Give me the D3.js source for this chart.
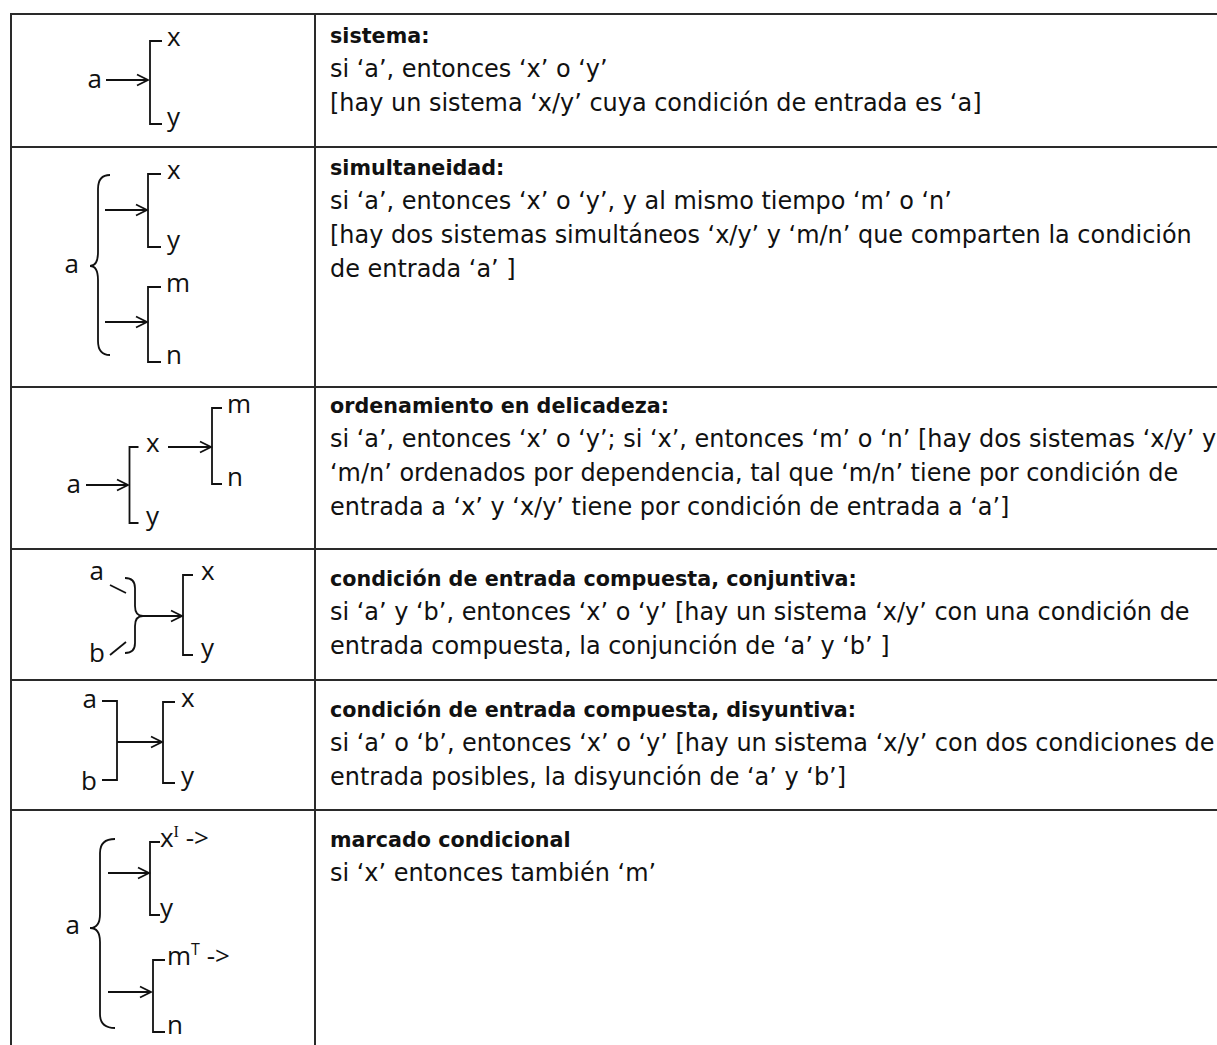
<!DOCTYPE html>
<html>
<head>
<meta charset="utf-8">
<script src="https://cdn.jsdelivr.net/npm/d3@7"></script>
<style>
    body { margin: 0; background: #fff; }
    svg { display: block; }
    .rule { stroke: #2a2a2a; stroke-width: 2; }
    .ink { fill: none; stroke: #111; stroke-width: 1.8; }
    .sym { font-family: "Open Sans", sans-serif; font-size: 26px; fill: #111; }
    .head { font-family: "DejaVu Sans", sans-serif; font-weight: bold; fill: #111; }
    .gloss { font-family: "DejaVu Sans", sans-serif; fill: #111; }
</style>
</head>
<body>
<svg></svg>
<script>
// row titles (bold) and the explanation lines of each row
const rowLabels = [
    "sistema:",
    "simultaneidad:",
    "ordenamiento en delicadeza:",
    "condición de entrada compuesta, conjuntiva:",
    "condición de entrada compuesta, disyuntiva:",
    "marcado condicional"
];
const rowLines = [
    ["si ‘a’, entonces ‘x’ o ‘y’",
     "[hay un sistema ‘x/y’ cuya condición de entrada es ‘a]"],
    ["si ‘a’, entonces ‘x’ o ‘y’, y al mismo tiempo ‘m’ o ‘n’",
     "[hay dos sistemas simultáneos ‘x/y’ y ‘m/n’ que comparten la condición",
     "de entrada ‘a’ ]"],
    ["si ‘a’, entonces ‘x’ o ‘y’; si ‘x’, entonces ‘m’ o ‘n’ [hay dos sistemas ‘x/y’ y",
     "‘m/n’ ordenados por dependencia, tal que ‘m/n’ tiene por condición de",
     "entrada a ‘x’ y ‘x/y’ tiene por condición de entrada a ‘a’]"],
    ["si ‘a’ y ‘b’, entonces ‘x’ o ‘y’ [hay un sistema ‘x/y’ con una condición de",
     "entrada compuesta, la conjunción de ‘a’ y ‘b’ ]"],
    ["si ‘a’ o ‘b’, entonces ‘x’ o ‘y’ [hay un sistema ‘x/y’ con dos condiciones de",
     "entrada posibles, la disyunción de ‘a’ y ‘b’]"],
    ["si ‘x’ entonces también ‘m’"]
];
// terms written in the network diagrams
const entryTerms = ["a", "b"];
const systemTerms = [["x", "y"], ["m", "n"]];
const markTerms = ["I", "T"];

const width = 1217,
    height = 1045;

const svg = d3.select("svg").attr("width", width).attr("height", height);

// table frame
const left = 11,
    divider = 315,
    rowTops = [14, 147, 387, 549, 680, 810],
    headPad = [29, 28, 26, 37, 37, 37],
    textX = 330,
    lineStep = 34;

svg.selectAll("line.h")
    .data(rowTops)
    .enter()
    .append("line")
    .attr("class", "rule h")
    .attr("x1", left)
    .attr("x2", width)
    .attr("y1", (d) => d)
    .attr("y2", (d) => d);

[left, divider].forEach((x) => {
    svg.append("line")
        .attr("class", "rule")
        .attr("x1", x)
        .attr("x2", x)
        .attr("y1", rowTops[0] - 1)
        .attr("y2", height);
});

// right column text
rowLabels.forEach((label, i) => {
    const base = rowTops[i] + headPad[i];
    svg.append("text")
        .attr("class", "head")
        .attr("x", textX)
        .attr("y", base)
        .text(label);
    rowLines[i].forEach((line, j) => {
        svg.append("text")
            .attr("class", "gloss")
            .attr("x", textX)
            .attr("y", base + (j + 1) * lineStep)
            .text(line);
    });
});

// fit the substitute font to the widths of the original lines
function fit(sel, probeText, target) {
    sel.style("font-size", "20px");
    const probe = sel.filter(function () { return this.textContent === probeText; }).node();
    const w = probe.getComputedTextLength();
    sel.style("font-size", (20 * target / w).toFixed(2) + "px");
}
fit(svg.selectAll("text.gloss"), rowLines[1][1], 862);
fit(svg.selectAll("text.head"), rowLabels[3], 527);

// diagram helpers
const ink = svg.append("g").attr("class", "ink");
const sym = svg.append("g").attr("class", "sym");

function seg(x1, y1, x2, y2) {
    ink.append("line").attr("x1", x1).attr("y1", y1).attr("x2", x2).attr("y2", y2);
}

function arrow(x1, x2, y) {
    const p = d3.path();
    p.moveTo(x1, y);
    p.lineTo(x2, y);
    p.moveTo(x2 - 11, y - 5.5);
    p.lineTo(x2, y);
    p.lineTo(x2 - 11, y + 5.5);
    ink.append("path").attr("d", p.toString());
}

function bracket(x, y1, y2, tick) {
    const p = d3.path();
    p.moveTo(x + tick, y1);
    p.lineTo(x, y1);
    p.lineTo(x, y2);
    p.lineTo(x + tick, y2);
    ink.append("path").attr("d", p.toString());
}

// curly brace; end < x gives '}', end > x gives '{'
function brace(x, y1, y2, ym, end, tip, r) {
    const p = d3.path();
    p.moveTo(end, y1);
    p.quadraticCurveTo(x, y1, x, y1 + r);
    p.lineTo(x, ym - r);
    p.quadraticCurveTo(x, ym, tip, ym);
    p.quadraticCurveTo(x, ym, x, ym + r);
    p.lineTo(x, y2 - r);
    p.quadraticCurveTo(x, y2, end, y2);
    ink.append("path").attr("d", p.toString());
}

function label(x, y, t, anchor) {
    return sym.append("text")
        .attr("x", x)
        .attr("y", y)
        .attr("text-anchor", anchor || "start")
        .text(t);
}

function system(x, y1, y2, tick, terms, lx) {
    bracket(x, y1, y2, tick);
    const top = label(lx, y1 + 5, terms[0]);
    label(lx, y2 + 2, terms[1]);
    return top;
}

function marked(sel, mark, serif) {
    sel.append("tspan")
        .attr("dy", -10)
        .style("font-size", "16px")
        .style("font-family", serif ? "Liberation Serif" : null)
        .text(mark);
    sel.append("tspan").attr("dy", 10).text(" ->");
}

const [a, b] = entryTerms;
let t;

// 1 sistema
t = rowTops[0];
label(102, t + 74, a, "end");
arrow(106, 148, t + 66);
system(150, t + 27, t + 110, 12, systemTerms[0], 167);

// 2 simultaneidad
t = rowTops[1];
brace(98, t + 28, t + 208, t + 119, 110, 90, 14);
label(79, t + 126, a, "end");
arrow(105, 147, t + 63);
system(148, t + 27, t + 100, 13, systemTerms[0], 167);
arrow(105, 147, t + 175);
system(148, t + 140, t + 215, 13, systemTerms[1], 166);

// 3 ordenamiento en delicadeza
t = rowTops[2];
label(81, t + 106, a, "end");
arrow(86, 128, t + 98);
system(129.5, t + 60, t + 136, 9, systemTerms[0], 146);
arrow(168, 211, t + 60);
system(212, t + 21, t + 97, 10, systemTerms[1], 227);

// 4 conjuntiva
t = rowTops[3];
label(104, t + 31, a, "end");
seg(110, t + 36, 126, t + 44);
label(105, t + 113, b, "end");
seg(110, t + 106, 126, t + 93);
brace(135, t + 29, t + 104, t + 67, 125, 143, 10);
arrow(143, 182, t + 67);
system(183, t + 26, t + 106, 10, systemTerms[0], 201);

// 5 disyuntiva
t = rowTops[4];
label(97, t + 28, a, "end");
label(97, t + 110, b, "end");
bracket(117, t + 21, t + 100, -15);
arrow(117, 162, t + 62);
system(163, t + 22, t + 103, 12, systemTerms[0], 181);

// 6 marcado condicional
t = rowTops[5];
brace(100, t + 29, t + 218, t + 118, 115, 90, 14);
label(80, t + 124, a, "end");
arrow(108, 149, t + 63);
marked(system(150, t + 32, t + 105, 10, systemTerms[0], 160), markTerms[0], true);
arrow(108, 151, t + 182);
marked(system(153, t + 150, t + 222, 12, systemTerms[1], 167), markTerms[1], false);
</script>
</body>
</html>
